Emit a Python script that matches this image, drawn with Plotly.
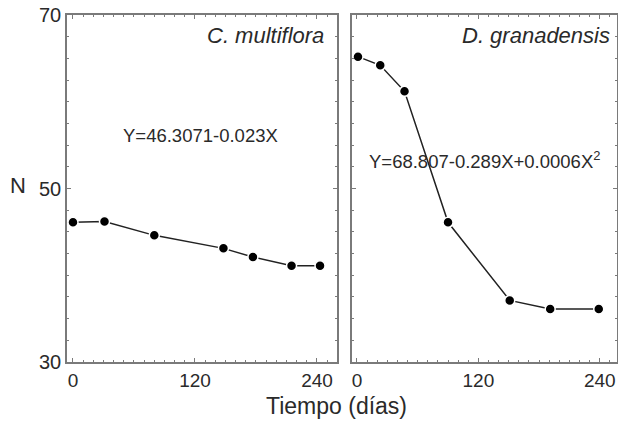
import plotly.graph_objects as go

# C. multiflora
days_c = [0, 31, 80, 148, 177, 215, 243]
n_c = [46.1, 46.2, 44.6, 43.1, 42.1, 41.1, 41.1]
# D. granadensis
days_d = [1, 23, 47, 90, 151, 191, 239]
n_d = [65.2, 64.2, 61.2, 46.1, 37.1, 36.1, 36.1]

xticks = [0, 120, 240]
yticks = [30, 50, 70]

FONT = "Liberation Sans, Arial, sans-serif"
TXT = "#2a2a2a"
FRAME = "#7a7a7a"

fig = go.Figure()
marker = dict(size=10, color="black", line=dict(color="white", width=1.5))
fig.add_trace(go.Scatter(x=days_c, y=n_c, mode="lines+markers",
                         line=dict(color="#222", width=1.5), marker=marker,
                         xaxis="x", yaxis="y", showlegend=False))
fig.add_trace(go.Scatter(x=days_d, y=n_d, mode="lines+markers",
                         line=dict(color="#222", width=1.5), marker=marker,
                         xaxis="x2", yaxis="y2", showlegend=False))

common_x = dict(tickvals=xticks, ticks="inside", ticklen=4, tickcolor=FRAME,
                showline=True, linecolor=FRAME, linewidth=1.5, mirror="ticks",
                showgrid=False, zeroline=False, automargin=False,
                tickfont=dict(family=FONT, size=19, color=TXT),
                minor=dict(dtick=10, ticks="inside", ticklen=2, tickcolor=FRAME))
common_y = dict(range=[30, 70], tickvals=yticks, ticks="inside", ticklen=4,
                tickcolor=FRAME, showline=True, linecolor=FRAME, linewidth=1.5,
                mirror="ticks", showgrid=False, zeroline=False, automargin=False,
                tickfont=dict(family=FONT, size=20, color=TXT),
                minor=dict(dtick=2.5, ticks="inside", ticklen=2, tickcolor=FRAME))

fig.update_layout(
    width=618, height=423,
    margin=dict(l=0, r=0, t=0, b=0, autoexpand=False),
    paper_bgcolor="white", plot_bgcolor="white",
    xaxis=dict(domain=[0.1084, 0.5453], range=[-5.9, 259.7], anchor="y", **common_x),
    yaxis=dict(domain=[0.1442, 0.9645], anchor="x", **common_y),
    xaxis2=dict(domain=[0.5696, 0.998], range=[-4.9, 256.8], anchor="y2", **common_x),
    yaxis2=dict(domain=[0.1442, 0.9645], anchor="x2", showticklabels=False, **common_y),
)

ann = [
    dict(text="<i>C. multiflora</i>", x=326 / 618, y=1 - 35 / 423, xanchor="right", size=22),
    dict(text="<i>D. granadensis</i>", x=612 / 618, y=1 - 35 / 423, xanchor="right", size=22),
    dict(text="Y=46.3071-0.023X", x=200 / 618, y=1 - 135 / 423, xanchor="center", size=18.5),
    dict(text="Y=68.807-0.289X+0.0006X<sup>2</sup>", x=485 / 618, y=1 - 160 / 423,
         xanchor="center", size=18.5),
    dict(text="N", x=18 / 618, y=1 - 185 / 423, xanchor="center", size=22),
    dict(text="Tiempo (días)", x=336 / 618, y=1 - 406 / 423, xanchor="center", size=23),
]
for a in ann:
    fig.add_annotation(text=a["text"], x=a["x"], y=a["y"], xref="paper", yref="paper",
                       xanchor=a["xanchor"], yanchor="middle", showarrow=False,
                       font=dict(family=FONT, size=a["size"], color=TXT))

fig.write_html("out.html", config={"displayModeBar": False},
               post_script="document.body.style.margin='0';")
